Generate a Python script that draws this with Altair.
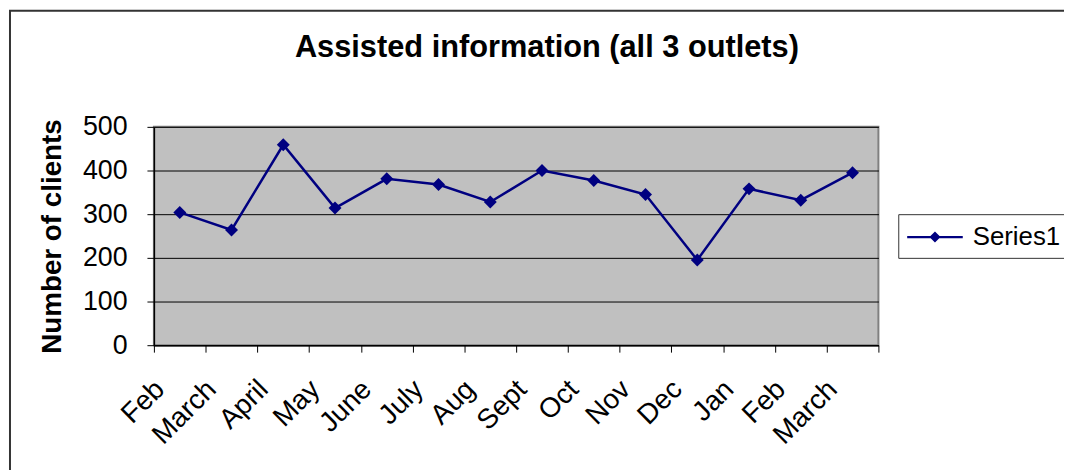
import altair as alt
import pandas as pd

months = ["Feb", "March", "April", "May", "June", "July", "Aug", "Sept",
          "Oct", "Nov", "Dec", "Jan", "Feb", "March"]
clients = [304, 264, 459, 314, 381, 368, 328, 400, 377, 345, 195, 358, 332, 395]
series_name = "Series1"
y_ticks = [0, 100, 200, 300, 400, 500]

df = pd.DataFrame({
    "idx": list(range(len(months))),
    "month": months,
    "clients": clients,
    "series": [series_name] * len(months),
})

FONT = "Liberation Sans"
NAVY = "#000080"

label_expr = "[" + ",".join("'%s'" % m for m in months) + "][datum.value]"

x_enc = alt.X(
    "idx:O",
    bandPosition=0.5,
    scale=alt.Scale(type="band", paddingInner=0, paddingOuter=0),
    axis=alt.Axis(
        title=None, labelExpr=label_expr, labelAngle=-45, labelAlign="right",
        labelBaseline="middle", labelFontSize=28, labelFont=FONT, labelColor="black",
        tickBand="extent", tickSize=7, tickColor="black", tickWidth=1,
        domainColor="black", domainWidth=1.5, labelPadding=33, labelOffset=-20,
        grid=False,
    ),
)
y_enc = alt.Y(
    "clients:Q",
    scale=alt.Scale(domain=[0, 500]),
    axis=alt.Axis(
        values=y_ticks, title="Number of clients", titleFontSize=28, titleFont=FONT,
        titleFontWeight="bold", titleColor="black", titlePadding=16,
        labelFontSize=27, labelFont=FONT, labelColor="black", labelPadding=20,
        tickSize=7, tickColor="black", grid=True, gridColor="black", gridWidth=1,
        domainColor="black", domainWidth=1.5,
    ),
)

base = alt.Chart(df)
line = base.mark_line(color=NAVY, strokeWidth=2.5).encode(x=x_enc, y=y_enc)

legend_path = "M-1,-0.08L3,-0.08L3,0.08L-1,0.08ZM1,-0.4L1.4,0L1,0.4L0.6,0Z"
points = base.mark_point(filled=True, shape="diamond", size=170, opacity=1).encode(
    x=x_enc, y=y_enc,
    color=alt.Color(
        "series:N",
        scale=alt.Scale(domain=[series_name], range=[NAVY]),
        legend=alt.Legend(
            title=None, orient="none", legendX=750, legendY=88,
            symbolType=legend_path, symbolSize=784, symbolOpacity=1,
            labelFontSize=26, labelFont=FONT, labelColor="black", labelOffset=37,
            padding=8, strokeColor="#333333", fillColor="white",
        ),
    ),
)

border = alt.Chart(alt.Data(values=[{"k": 1}])).mark_rect(
    fillOpacity=0, stroke="#333333", strokeWidth=2
).encode(
    x=alt.value(-145), x2=alt.value(1000), y=alt.value(-117), y2=alt.value(500)
)

chart = alt.layer(border, line, points).properties(
    width=730,
    height=220,
    background="white",
    title=alt.TitleParams(
        "Assisted information (all 3 outlets)", fontSize=31, font=FONT,
        fontWeight="bold", color="black", anchor="middle", dx=31, offset=-55,
    ),
    autosize=alt.AutoSizeParams(type="none"),
    padding={"left": 147, "top": 118, "right": 187, "bottom": 124},
).configure_view(
    fill="#C0C0C0", stroke="#808080", strokeWidth=2
)

chart.save("out.html", embed_options={"renderer": "svg", "actions": False})
